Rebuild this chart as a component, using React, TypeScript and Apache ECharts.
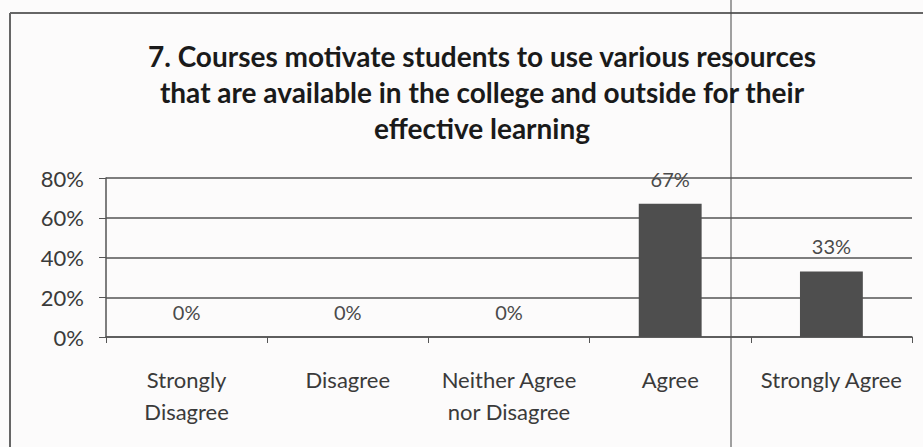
import React, { useEffect, useRef } from "react";
import * as echarts from "echarts";

const titleLines = [
  "7. Courses motivate students to use various resources",
  "that are available in the college and outside for their",
  "effective learning",
];
const categories = [
  "Strongly\nDisagree",
  "Disagree",
  "Neither Agree\nnor Disagree",
  "Agree",
  "Strongly Agree",
];
const values = [0, 0, 0, 67, 33];
const yTicks = { min: 0, max: 80, interval: 20 };

export default function App() {
  const ref = useRef<HTMLDivElement>(null);
  useEffect(() => {
    if (!ref.current) return;
    const chart = echarts.init(ref.current, null, { renderer: "svg" });
    chart.setOption({
      animation: false,
      backgroundColor: "#fcfbfb",
      title: {
        text: titleLines.join("\n"),
        left: 477,
        textAlign: "center",
        top: 33,
        textStyle: {
          fontFamily: "Lato",
          fontWeight: "bold",
          fontSize: 28,
          lineHeight: 36,
          color: "#1a1a1a",
        },
      },
      grid: { left: 106, right: 11, top: 178, bottom: 110, containLabel: false },
      xAxis: {
        type: "category",
        data: categories,
        axisLine: { lineStyle: { color: "#555", width: 1.5 } },
        axisTick: { show: true, length: 6, lineStyle: { color: "#555" } },
        axisLabel: {
          fontFamily: "Lato",
          fontSize: 22,
          lineHeight: 32,
          color: "#3a3a3a",
          margin: 26,
          interval: 0,
        },
      },
      yAxis: {
        type: "value",
        min: yTicks.min,
        max: yTicks.max,
        interval: yTicks.interval,
        axisLine: { show: true, lineStyle: { color: "#555", width: 1.5 } },
        axisTick: { show: true, length: 7, lineStyle: { color: "#555" } },
        splitLine: { lineStyle: { color: "#555", width: 1.5 } },
        axisLabel: {
          formatter: "{value}%",
          fontFamily: "Lato",
          fontSize: 22,
          color: "#3a3a3a",
          margin: 22,
        },
      },
      series: [
        {
          type: "bar",
          data: values,
          barWidth: "39%",
          itemStyle: { color: "#4e4e4e" },
          label: {
            show: true,
            position: "top",
            distance: 15,
            formatter: "{c}%",
            fontFamily: "Lato",
            fontSize: 20,
            color: "#4a4a4a",
          },
        },
      ],
      graphic: [
        { type: "line", shape: { x1: 10, y1: 13, x2: 923, y2: 13 }, style: { stroke: "#666", lineWidth: 2 } },
        { type: "line", shape: { x1: 10, y1: 13, x2: 10, y2: 447 }, style: { stroke: "#666", lineWidth: 2 } },
        { type: "line", shape: { x1: 731, y1: 0, x2: 731, y2: 447 }, style: { stroke: "#444", lineWidth: 1 } },
      ],
    });
    return () => chart.dispose();
  }, []);
  return (
    <div
      ref={ref}
      style={{ position: "fixed", left: 0, top: 0, width: 923, height: 447 }}
    />
  );
}
